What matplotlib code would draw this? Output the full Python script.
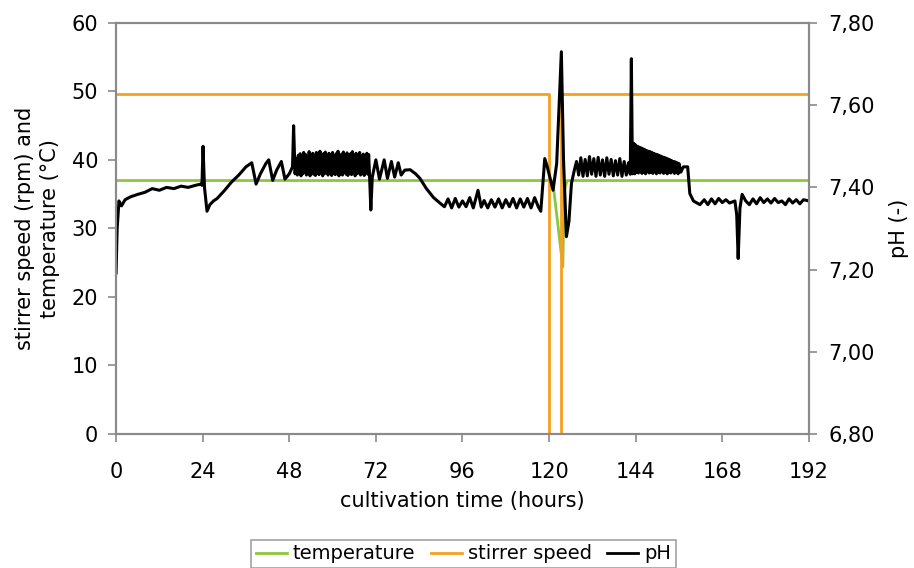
import matplotlib
matplotlib.use("Agg")
import matplotlib.pyplot as plt
from matplotlib.lines import Line2D

# cultivation data
temp_t = [0, 121.0, 123.8, 124.2, 125.0, 192]
temp_v = [37.0, 37.0, 24.4, 35.5, 37.0, 37.0]

stir_t = [0, 120.0, 120.0, 123.4, 123.4, 192]
stir_v = [49.7, 49.7, 0.0, 0.0, 49.7, 49.7]

# pH trace, piece by piece: (time in h, pH)
ph_start = [(0, 7.192), (0.3, 7.300), (0.8, 7.367), (1.5, 7.355), (2.5, 7.370), (4, 7.377),
            (6, 7.383), (8, 7.388), (10, 7.397), (12, 7.393), (14, 7.400), (16, 7.397),
            (18, 7.403), (20, 7.400), (22, 7.405), (23.5, 7.408),
            (23.8, 7.405), (24.1, 7.500), (24.5, 7.400), (25.2, 7.342), (26, 7.358), (27, 7.367),
            (28, 7.373), (30, 7.392), (32, 7.413), (34, 7.430), (36, 7.450), (37.6, 7.460),
            (38.8, 7.408), (40, 7.433), (41.5, 7.458), (42.3, 7.467), (43.4, 7.417),
            (44.5, 7.442), (45.8, 7.463), (46.8, 7.420), (48, 7.433), (48.9, 7.450),
            (49.2, 7.550), (49.6, 7.433)]
ph_dense1 = [(50.0, 7.470), (50.25, 7.430), (50.5, 7.478), (50.75, 7.435), (51.0, 7.482),
             (51.25, 7.428), (51.5, 7.475), (51.75, 7.433), (52.0, 7.485), (52.25, 7.437),
             (52.5, 7.480), (52.75, 7.430), (53.0, 7.472), (53.25, 7.434), (53.5, 7.487),
             (53.75, 7.428), (54.0, 7.478), (54.25, 7.436), (54.5, 7.483), (54.75, 7.432),
             (55.0, 7.475), (55.25, 7.429), (55.5, 7.485), (55.75, 7.435), (56.0, 7.480),
             (56.25, 7.431), (56.5, 7.488), (56.75, 7.437), (57.0, 7.476), (57.25, 7.428),
             (57.5, 7.482), (57.75, 7.433), (58.0, 7.486), (58.25, 7.436), (58.5, 7.474),
             (58.75, 7.430), (59.0, 7.483), (59.25, 7.434), (59.5, 7.479), (59.75, 7.429),
             (60.0, 7.485), (60.25, 7.435), (60.5, 7.477), (60.75, 7.431), (61.0, 7.482),
             (61.25, 7.437), (61.5, 7.488), (61.75, 7.428), (62.0, 7.473), (62.25, 7.433),
             (62.5, 7.481), (62.75, 7.430), (63.0, 7.486), (63.25, 7.436), (63.5, 7.478),
             (63.75, 7.432), (64.0, 7.484), (64.25, 7.429), (64.5, 7.475), (64.75, 7.434),
             (65.0, 7.482), (65.25, 7.431), (65.5, 7.487), (65.75, 7.437), (66.0, 7.476),
             (66.25, 7.428), (66.5, 7.483), (66.75, 7.433), (67.0, 7.479), (67.25, 7.435),
             (67.5, 7.485), (67.75, 7.430), (68.0, 7.474), (68.25, 7.434), (68.5, 7.481),
             (68.75, 7.429), (69.0, 7.477), (69.25, 7.436), (69.5, 7.483), (69.75, 7.432),
             (70.0, 7.480)]
ph_mid = [(70.3, 7.417), (70.6, 7.345), (71.0, 7.425), (72.0, 7.467), (73.0, 7.420),
          (74.3, 7.467), (75.2, 7.422), (76.3, 7.463), (77.2, 7.425), (78.2, 7.460),
          (79.0, 7.430), (80.0, 7.442), (81.5, 7.443), (83.0, 7.433), (84.2, 7.422),
          (86.0, 7.397), (88.0, 7.375), (90.0, 7.360), (91.0, 7.353),
          (92.0, 7.372), (93.0, 7.350), (94.0, 7.373), (95.0, 7.352), (96.0, 7.367),
          (97.0, 7.353), (98.0, 7.375), (99.0, 7.350), (100.3, 7.393), (101.2, 7.352),
          (102.0, 7.368), (103.0, 7.350), (104.0, 7.370), (105.0, 7.352), (106.0, 7.372),
          (107.0, 7.350), (108.0, 7.370), (109.0, 7.353), (110.0, 7.373), (111.0, 7.350),
          (112.0, 7.372), (113.0, 7.352), (114.0, 7.373), (115.0, 7.350), (116.0, 7.375),
          (117.0, 7.353), (117.7, 7.342),
          (118.8, 7.470), (119.5, 7.450), (121.1, 7.393), (122.1, 7.458), (123.4, 7.730),
          (124.0, 7.467), (124.8, 7.280), (125.5, 7.317), (126.2, 7.410), (127.0, 7.442),
          (127.6, 7.463),
          (128.2, 7.430), (128.8, 7.472), (129.4, 7.427), (130.0, 7.468), (130.6, 7.428),
          (131.2, 7.475), (131.8, 7.432), (132.4, 7.470), (133.0, 7.427), (133.6, 7.473),
          (134.2, 7.430), (134.8, 7.467), (135.4, 7.427), (136.0, 7.472), (136.6, 7.432),
          (137.2, 7.468), (137.8, 7.428), (138.4, 7.465), (139.0, 7.430), (139.6, 7.470),
          (140.2, 7.427), (140.8, 7.463), (141.4, 7.430), (142.0, 7.460), (142.5, 7.432),
          (142.8, 7.713), (143.1, 7.433)]
ph_dense2 = [(143.5, 7.507), (143.75, 7.433), (144.0, 7.503), (144.25, 7.437), (144.5, 7.500),
             (144.75, 7.435), (145.0, 7.498), (145.25, 7.438), (145.5, 7.496), (145.75, 7.434),
             (146.0, 7.494), (146.25, 7.437), (146.5, 7.492), (146.75, 7.433), (147.0, 7.490),
             (147.25, 7.438), (147.5, 7.488), (147.75, 7.435), (148.0, 7.487), (148.25, 7.437),
             (148.5, 7.485), (148.75, 7.434), (149.0, 7.483), (149.25, 7.438), (149.5, 7.481),
             (149.75, 7.433), (150.0, 7.480), (150.25, 7.436), (150.5, 7.478), (150.75, 7.435),
             (151.0, 7.476), (151.25, 7.438), (151.5, 7.474), (151.75, 7.434), (152.0, 7.473),
             (152.25, 7.437), (152.5, 7.471), (152.75, 7.433), (153.0, 7.469), (153.25, 7.436),
             (153.5, 7.467), (153.75, 7.435), (154.0, 7.465), (154.25, 7.438), (154.5, 7.463),
             (154.75, 7.434), (155.0, 7.462), (155.25, 7.437), (155.5, 7.460), (155.75, 7.433),
             (156.0, 7.458)]
ph_end = [(156.5, 7.437), (157.2, 7.450), (158.4, 7.450), (159.0, 7.385), (160.0, 7.367),
          (161.8, 7.358), (163, 7.370), (164, 7.358), (165, 7.372), (166, 7.360), (167, 7.373),
          (168, 7.363), (169, 7.370), (170, 7.362), (171.5, 7.367), (172.0, 7.333),
          (172.4, 7.227), (172.9, 7.350), (173.5, 7.383), (174.5, 7.367), (175.5, 7.358),
          (176.5, 7.372), (177.5, 7.360), (178.5, 7.375), (179.5, 7.363), (180.5, 7.372),
          (181.5, 7.362), (182.5, 7.373), (183.5, 7.363), (184.5, 7.367), (185.5, 7.358),
          (186.5, 7.372), (187.5, 7.362), (188.5, 7.370), (189.5, 7.360), (190.5, 7.370),
          (192, 7.367)]

x_ticks = [0, 24, 48, 72, 96, 120, 144, 168, 192]
left_ticks = [0, 10, 20, 30, 40, 50, 60]
ph_ticks = [6.8, 7.0, 7.2, 7.4, 7.6, 7.8]
ph_labels = ["6,80", "7,00", "7,20", "7,40", "7,60", "7,80"]

green = "#8CC63F"
orange = "#F7A01E"
grey = "#8a8a8a"
fs = 15

ph = ph_start + ph_dense1 + ph_mid + ph_dense2 + ph_end
ph_t = [p[0] for p in ph]
ph_v = [p[1] for p in ph]

fig = plt.figure(figsize=(9.14, 5.68), dpi=100)
ax = fig.add_axes([0.127, 0.236, 0.758, 0.7235])
ax.plot(temp_t, temp_v, color=green, lw=2)
ax.plot(stir_t, stir_v, color=orange, lw=2)
ax.set_xlim(0, 192)
ax.set_ylim(0, 60)
ax.set_xticks(x_ticks)
ax.set_yticks(left_ticks)
ax.tick_params(axis="x", direction="out", length=6, width=1.2, color=grey, pad=14, labelsize=fs)
ax.tick_params(axis="y", direction="out", length=6, width=1.2, color=grey, pad=7, labelsize=fs)
ax.set_xlabel("cultivation time (hours)", fontsize=fs, labelpad=7)
ax.set_ylabel("stirrer speed (rpm) and\ntemperature (\u00b0C)", fontsize=fs, labelpad=8,
              linespacing=1.3)

ax2 = ax.twinx()
ax2.plot(ph_t, ph_v, color="black", lw=2.2)
ax2.set_ylim(6.8, 7.8)
ax2.set_yticks(ph_ticks)
ax2.set_yticklabels(ph_labels)
ax2.tick_params(axis="y", direction="out", length=6, width=1.2, color=grey, pad=8, labelsize=fs)
ax2.set_ylabel("pH (-)", fontsize=fs, labelpad=10)

for a in (ax, ax2):
    for s in a.spines.values():
        s.set_color(grey)
        s.set_linewidth(1.5)

handles = [Line2D([], [], color=green, lw=2),
           Line2D([], [], color=orange, lw=2),
           Line2D([], [], color="black", lw=2)]
leg = fig.legend(handles, ["temperature", "stirrer speed", "pH"], loc="upper center",
                 bbox_to_anchor=(0.507, 0.05), ncol=3, fontsize=14, frameon=True,
                 fancybox=False, handlelength=1.6, handletextpad=0.3, columnspacing=0.8,
                 borderpad=0.25, borderaxespad=0)
leg.get_frame().set_edgecolor(grey)
leg.get_frame().set_linewidth(1.2)

fig.savefig("out.png", dpi=100)
